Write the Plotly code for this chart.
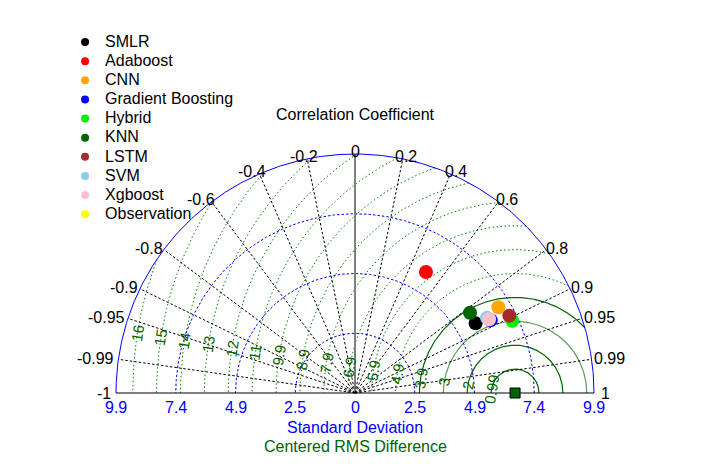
import numpy as np
import plotly.graph_objects as go

# ---------------- data ----------------
models = ["SMLR", "Adaboost", "CNN", "Gradient Boosting", "Hybrid",
          "KNN", "LSTM", "SVM", "Xgboost"]
std_dev = [5.77, 5.81, 6.92, 6.38, 7.17, 5.81, 7.15, 6.29, 6.34]
corr_coef = [0.866, 0.506, 0.858, 0.881, 0.909, 0.820, 0.894, 0.869, 0.876]
obs_name = "Observation"
obs_std = 6.63

std_max = 9.9
std_ticks = [0, 2.475, 4.95, 7.425, 9.9]
std_tick_labels = ["0", "2.5", "4.9", "7.4", "9.9"]
corr_ticks = [-1, -0.99, -0.95, -0.9, -0.8, -0.6, -0.4, -0.2, 0,
              0.2, 0.4, 0.6, 0.8, 0.9, 0.95, 0.99, 1]
rms_ticks = [0.99, 1.98, 2.97, 3.96, 4.95, 5.94, 6.93, 7.92, 8.91, 9.9,
             10.89, 11.88, 12.87, 13.86, 14.85, 15.84]
rms_tick_labels = ["0.99", "2", "3", "3.9", "4.9", "5.9", "6.9", "7.9", "8.9",
                   "9.9", "11", "12", "13", "14", "15", "16"]

# ---------------- styles ----------------
colors = ["black", "red", "orange", "blue", "#00ee00", "darkgreen",
          "brown", "skyblue", "pink"]
FONT = "Liberation Sans, Arial, sans-serif"
W, H = 723, 466
ox, oy = 355, 393
scale = 239 / 9.9
xr = [-ox / scale, (W - ox) / scale]
yr = [-(H - oy) / scale, oy / scale]

fig = go.Figure()

def line(x, y, color, width=1, dash="solid"):
    fig.add_trace(go.Scatter(x=x, y=y, mode="lines", showlegend=False,
                             hoverinfo="skip",
                             line=dict(color=color, width=width, dash=dash)))

th = np.linspace(0, np.pi, 400)

# RMS contours (centered on observation)
rms_styles = []
for i, r in enumerate(rms_ticks):
    if i in (0, 1, 3):
        rms_styles.append(("#006400", 1.2, "solid"))
    elif i == 2:
        rms_styles.append(("#5a9e5a", 1.2, "solid"))
    else:
        rms_styles.append(("#008000", 1, "1.5px,2.5px"))
for r, (col, wd, ds) in zip(rms_ticks, rms_styles):
    c0 = (std_max ** 2 - obs_std ** 2 - r ** 2) / (2 * obs_std * r)
    phi0 = np.arccos(np.clip(c0, -1, 1))
    phi = np.linspace(phi0, np.pi, 400)
    line(obs_std + r * np.cos(phi), r * np.sin(phi), col, wd, ds)

# std-dev circles
for s in std_ticks[1:-1]:
    line(s * np.cos(th), s * np.sin(th), "blue", 1, "2.5px,2px")

# correlation rays
for c in corr_ticks:
    if abs(c) == 1:
        continue
    a = np.arccos(c)
    if c == 0:
        line([0, 0], [0, std_max], "#808080", 2)
    else:
        line([0, std_max * np.cos(a)], [0, std_max * np.sin(a)], "black", 1, "2.5px,2px")

# outer arc and axis
line(std_max * np.cos(th), std_max * np.sin(th), "blue", 1)
line([-std_max, std_max], [0, 0], "black", 1.2)

# data points
for name, s, c, col in zip(models, std_dev, corr_coef, colors):
    a = np.arccos(c)
    fig.add_trace(go.Scatter(x=[s * np.cos(a)], y=[s * np.sin(a)], mode="markers",
                             showlegend=False, name=name,
                             marker=dict(color=col, size=14)))
fig.add_trace(go.Scatter(x=[obs_std], y=[0], mode="markers", showlegend=False,
                         name=obs_name,
                         marker=dict(color="#006400", size=10, symbol="square",
                                     line=dict(color="black", width=1))))

# legend entries
for name, col in zip(models + [obs_name], colors + ["yellow"]):
    fig.add_trace(go.Scatter(x=[None], y=[None], mode="markers",
                             name='<span style="font-size:16px">%s</span>' % name,
                             marker=dict(color=col, size=8)))

ann = []
# correlation labels
def twidth(t, fs=16):
    w = 0
    for ch in t:
        w += 0.278 if ch == "." else (0.584 if ch == "-" else 0.556)
    return w * fs
for c in corr_ticks:
    a = np.arccos(c)
    t = "%g" % c
    ann.append(dict(x=10.0 * np.cos(a), y=10.0 * np.sin(a), text=t,
                    xshift=twidth(t) / 2 * c + (5 if c == 1 else 0),
                    showarrow=False, xanchor="center", yanchor="middle",
                    font=dict(size=16, color="black", family=FONT)))
# std tick labels
for v, t in zip(std_ticks, std_tick_labels):
    for sgn in ([1] if v == 0 else [-1, 1]):
        ann.append(dict(x=sgn * v, y=0, text=t, yshift=-14, showarrow=False,
                        xanchor="center", yanchor="middle",
                        font=dict(size=16, color="blue", family=FONT)))
# RMS labels (read bottom-to-top along the contour)
ang_deg = 171
ang = np.deg2rad(ang_deg)
for r, t in zip(rms_ticks, rms_tick_labels):
    ann.append(dict(x=obs_std + r * np.cos(ang), y=r * np.sin(ang), text=t,
                    textangle=-(ang_deg - 90), showarrow=False, xanchor="center",
                    yanchor="middle",
                    font=dict(size=15, color="#006400", family=FONT)))
# titles
ann.append(dict(x=0, y=11.52, text="Correlation Coefficient", showarrow=False,
                font=dict(size=16, color="black", family=FONT)))
ann.append(dict(x=0, y=-1.41, text="Standard Deviation", showarrow=False,
                font=dict(size=16, color="blue", family=FONT)))
ann.append(dict(x=0, y=-2.2, text="Centered RMS Difference", showarrow=False,
                font=dict(size=16, color="#006400", family=FONT)))

fig.update_layout(
    width=W, height=H, margin=dict(l=0, r=0, t=0, b=0),
    paper_bgcolor="white", plot_bgcolor="white",
    xaxis=dict(range=xr, visible=False, fixedrange=True),
    yaxis=dict(range=yr, visible=False, fixedrange=True),
    annotations=ann,
    font=dict(family=FONT),
    legend=dict(x=0.09, y=0.941, xanchor="left", yanchor="top",
                font=dict(size=12.4, family=FONT, color="black"),
                bgcolor="rgba(0,0,0,0)", itemclick=False),
    showlegend=True,
)
fig.write_html("out.html")
